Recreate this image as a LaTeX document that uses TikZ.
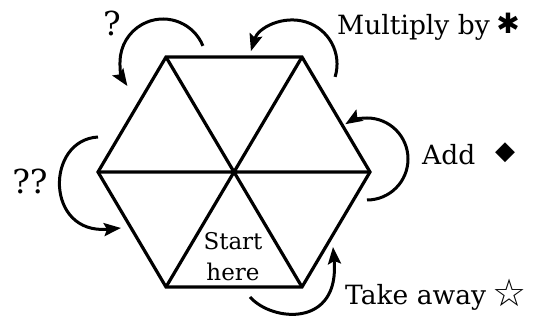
\documentclass[tikz,border=0pt]{standalone}
\usepackage{fontspec}
\setmainfont{DejaVu Serif}
\newfontfamily\symfont{DejaVu Sans}
\usetikzlibrary{arrows.meta}
\begin{document}
\begin{tikzpicture}[x=1pt,y=1pt,
  hexline/.style={line width=3.2pt, line join=miter},
  turn/.style={line width=3pt, -{Stealth[length=17pt,width=13pt,inset=3pt]}},
  lbl/.style={font=\fontsize{26.5}{30}\selectfont, inner sep=0pt},
  qlbl/.style={font=\fontsize{33}{36}\selectfont, inner sep=0pt},
  sym/.style={font=\symfont\fontsize{28}{30}\selectfont, inner sep=0pt}]
\useasboundingbox (0,0) rectangle (535,320);
% hexagon
\coordinate (TL) at (166,263);
\coordinate (TR) at (302,263);
\coordinate (R) at (370,148);
\coordinate (BR) at (302,33);
\coordinate (BL) at (166,33);
\coordinate (L) at (98,148);
\draw[hexline] (TL) -- (TR) -- (R) -- (BR) -- (BL) -- (L) -- cycle;
\draw[hexline] (TL) -- (BR) (TR) -- (BL) (L) -- (R);
% arrow start points
\coordinate (s1) at (202.9,274.1);
\coordinate (s2) at (335.1,243.1);
\coordinate (s3) at (367,120);
\coordinate (s4) at (250,23);
\coordinate (e4) at (333,73);
\coordinate (s5) at (98,183);
\coordinate (e5) at (121,92);
\draw[turn] (s1) arc[start angle=22, end angle=214, radius=43];
\draw[turn] (s2) arc[start angle=-17, end angle=163, radius=44];
\draw[turn] (s3) arc[start angle=-90, end angle=122, radius=41];
\draw[turn] (s4) .. controls (272,-2) and (340,-8) .. (e4);
\draw[turn] (s5) .. controls (45,180) and (45,85) .. (e5);
% labels
\node[qlbl, anchor=base] (q1) at (112,284) {?};
\node[qlbl, anchor=base] (q2) at (30,126) {??};
\node[lbl, anchor=base west] (mul) at (337,285) {Multiply by};
\node[sym] (star1) at (508,297) {✱};
\node[lbl, anchor=base west] (add) at (422,155) {Add};
\node[sym, font=\symfont\fontsize{26}{28}\selectfont] (dia) at (505,167) {◆};
\node[lbl, anchor=base west] (take) at (345,15) {Take away};
\node[sym, font=\symfont\fontsize{38}{40}\selectfont] (star2) at (510,27) {☆};
\node[font=\fontsize{23}{31}\selectfont, align=center, inner sep=0pt] (start) at (233,63) {Start\\here};
\end{tikzpicture}
\end{document}
